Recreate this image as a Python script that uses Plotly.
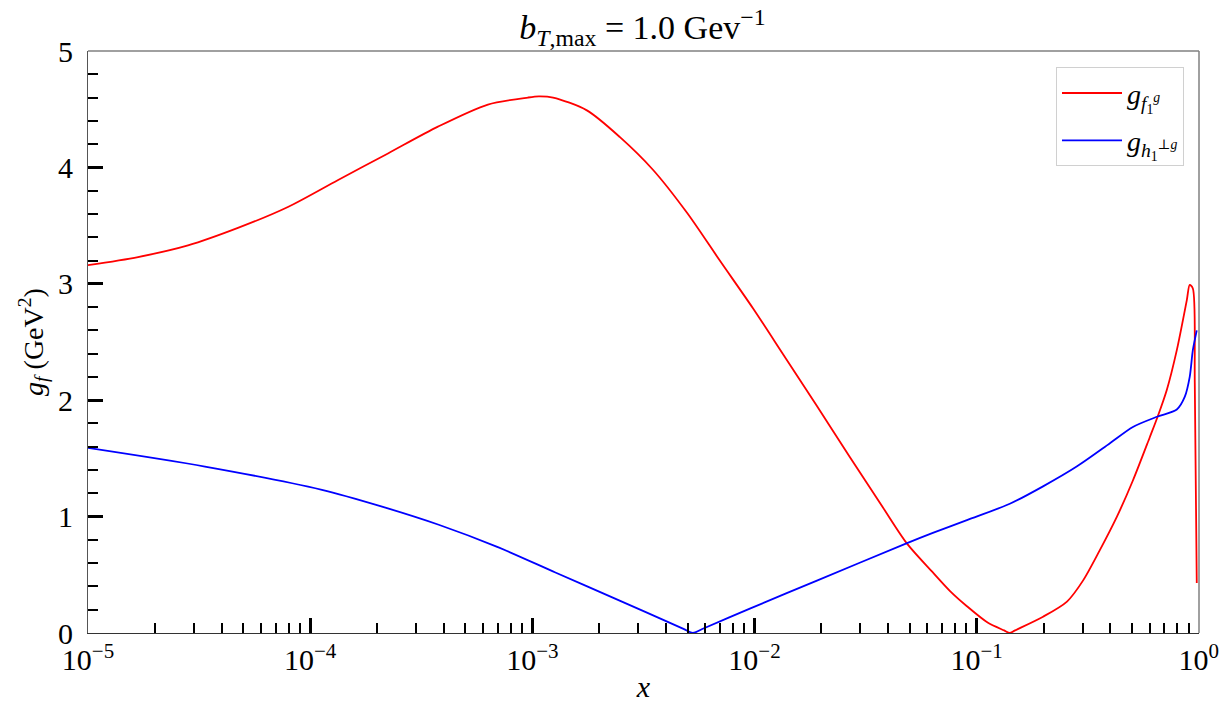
import plotly.graph_objects as go

# Data
x_f1g = [1.00e-5, 1.68e-5, 2.82e-5, 4.73e-5, 7.94e-5, 1.33e-4, 2.24e-4, 3.76e-4, 6.31e-4,
         9.55e-4, 1.07e-3, 1.24e-3, 1.76e-3, 2.48e-3, 3.49e-3, 4.97e-3, 6.98e-3, 9.84e-3,
         1.34e-2, 1.91e-2, 2.69e-2, 3.78e-2, 4.85e-2, 6.35e-2, 7.59e-2, 9.04e-2, 0.112,
         0.133, 0.141, 0.148, 0.199, 0.255, 0.301, 0.358, 0.428, 0.505, 0.601, 0.653,
         0.718, 0.796, 0.883, 0.910, 0.940, 0.959, 0.979]
g_f1g = [3.16, 3.23, 3.33, 3.48, 3.66, 3.89, 4.12, 4.35, 4.54,
         4.60, 4.61, 4.60, 4.49, 4.26, 3.98, 3.61, 3.20, 2.79,
         2.40, 1.95, 1.51, 1.08, 0.77, 0.52, 0.36, 0.23, 0.09,
         0.022, 0.00, 0.02, 0.14, 0.27, 0.45, 0.71, 1.00, 1.31, 1.68, 1.86,
         2.09, 2.43, 2.86, 2.99, 2.96, 2.15, 0.43]

x_h1g = [1.00e-5, 3.36e-5, 1.13e-4, 2.07e-4, 3.79e-4, 6.95e-4, 1.27e-3, 2.33e-3, 4.79e-3,
         5.28e-3, 5.82e-3, 9.53e-3, 1.91e-2, 4.83e-2, 6.35e-2, 9.04e-2, 0.141, 0.199,
         0.282, 0.398, 0.505, 0.653, 0.796, 0.865, 0.910, 0.940, 0.979]
g_h1g = [1.59, 1.43, 1.23, 1.09, 0.93, 0.74, 0.52, 0.30, 0.036,
         0.00, 0.034, 0.21, 0.45, 0.77, 0.86, 0.97, 1.11, 1.26,
         1.43, 1.63, 1.77, 1.86, 1.92, 2.03, 2.20, 2.43, 2.60]

x_tickvals = [1e-5, 1e-4, 1e-3, 1e-2, 1e-1, 1]
x_ticktext = ["10<sup>−5</sup>", "10<sup>−4</sup>", "10<sup>−3</sup>",
              "10<sup>−2</sup>", "10<sup>−1</sup>", "10<sup>0</sup>"]
y_tickvals = [0, 1, 2, 3, 4, 5]

FONT = "Liberation Serif, DejaVu Serif, serif"

fig = go.Figure()
fig.add_trace(go.Scatter(
    x=x_f1g, y=g_f1g, mode="lines", legendgroup="a",
    line=dict(color="#ff0000", width=1.8, shape="spline", smoothing=0.8),
    name="<i>g</i><sub><i>f</i><sub>1</sub><sup><i>g</i></sup></sub>"))
fig.add_trace(go.Scatter(
    x=x_h1g, y=g_h1g, mode="lines", legendgroup="b",
    line=dict(color="#0000ff", width=1.8, shape="spline", smoothing=0.8),
    name="<i>g</i><sub><i>h</i><sub>1</sub><sup>⊥<i>g</i></sup></sub>"))

fig.update_layout(
    width=1219, height=708,
    margin=dict(l=88, r=20, t=51, b=75, autoexpand=False),
    paper_bgcolor="white", plot_bgcolor="white",
    font=dict(family=FONT, size=28, color="black"),
    title=dict(text="<i>b</i><sub><i>T</i>,max</sub> = 1.0 Gev<sup>−1</sup>",
               x=0.527, xanchor="center", y=0.962, yanchor="middle",
               font=dict(size=34)),
    showlegend=True,
    legend=dict(x=0.9865, y=0.972, xanchor="right", yanchor="top",
                bgcolor="white", bordercolor="#d0d0d0", borderwidth=1,
                font=dict(size=28), tracegroupgap=8, itemwidth=60),
    xaxis=dict(type="log", range=[-5, 0.0008], showgrid=False, zeroline=False,
               automargin=False, ticklabeloverflow="allow",
               tickvals=x_tickvals, ticktext=x_ticktext,
               ticks="inside", ticklen=15, tickwidth=3, tickcolor="black",
               showline=True, linecolor="#333333", linewidth=1.2,
               minor=dict(ticks="inside", ticklen=10, tickwidth=2, tickcolor="black",
                          dtick="D1", showgrid=False),
               title=dict(text="<i>x</i>", standoff=0, font=dict(size=30)),
               tickfont=dict(size=30)),
    yaxis=dict(range=[0, 5], showgrid=False, zeroline=False,
               automargin=False,
               tickvals=y_tickvals,
               ticks="inside", ticklen=15, tickwidth=3, tickcolor="black",
               showline=True, linecolor="#555555", linewidth=1.2,
               ticklabelstandoff=8,
               minor=dict(ticks="inside", ticklen=10, tickwidth=2, tickcolor="black",
                          dtick=0.2, showgrid=False),
               title=dict(text="<i>g<sub>f</sub></i> (GeV<sup>2</sup>)", standoff=6,
                          font=dict(size=28)),
               tickfont=dict(size=30)),
)

# grey top and right frame
fig.add_shape(type="line", xref="paper", yref="paper", x0=0, x1=1, y0=1, y1=1,
              line=dict(color="#808080", width=1.5))
fig.add_shape(type="line", xref="paper", yref="paper", x0=1, x1=1, y0=0, y1=1,
              line=dict(color="#808080", width=1.5))

fig.write_html("out.html")
